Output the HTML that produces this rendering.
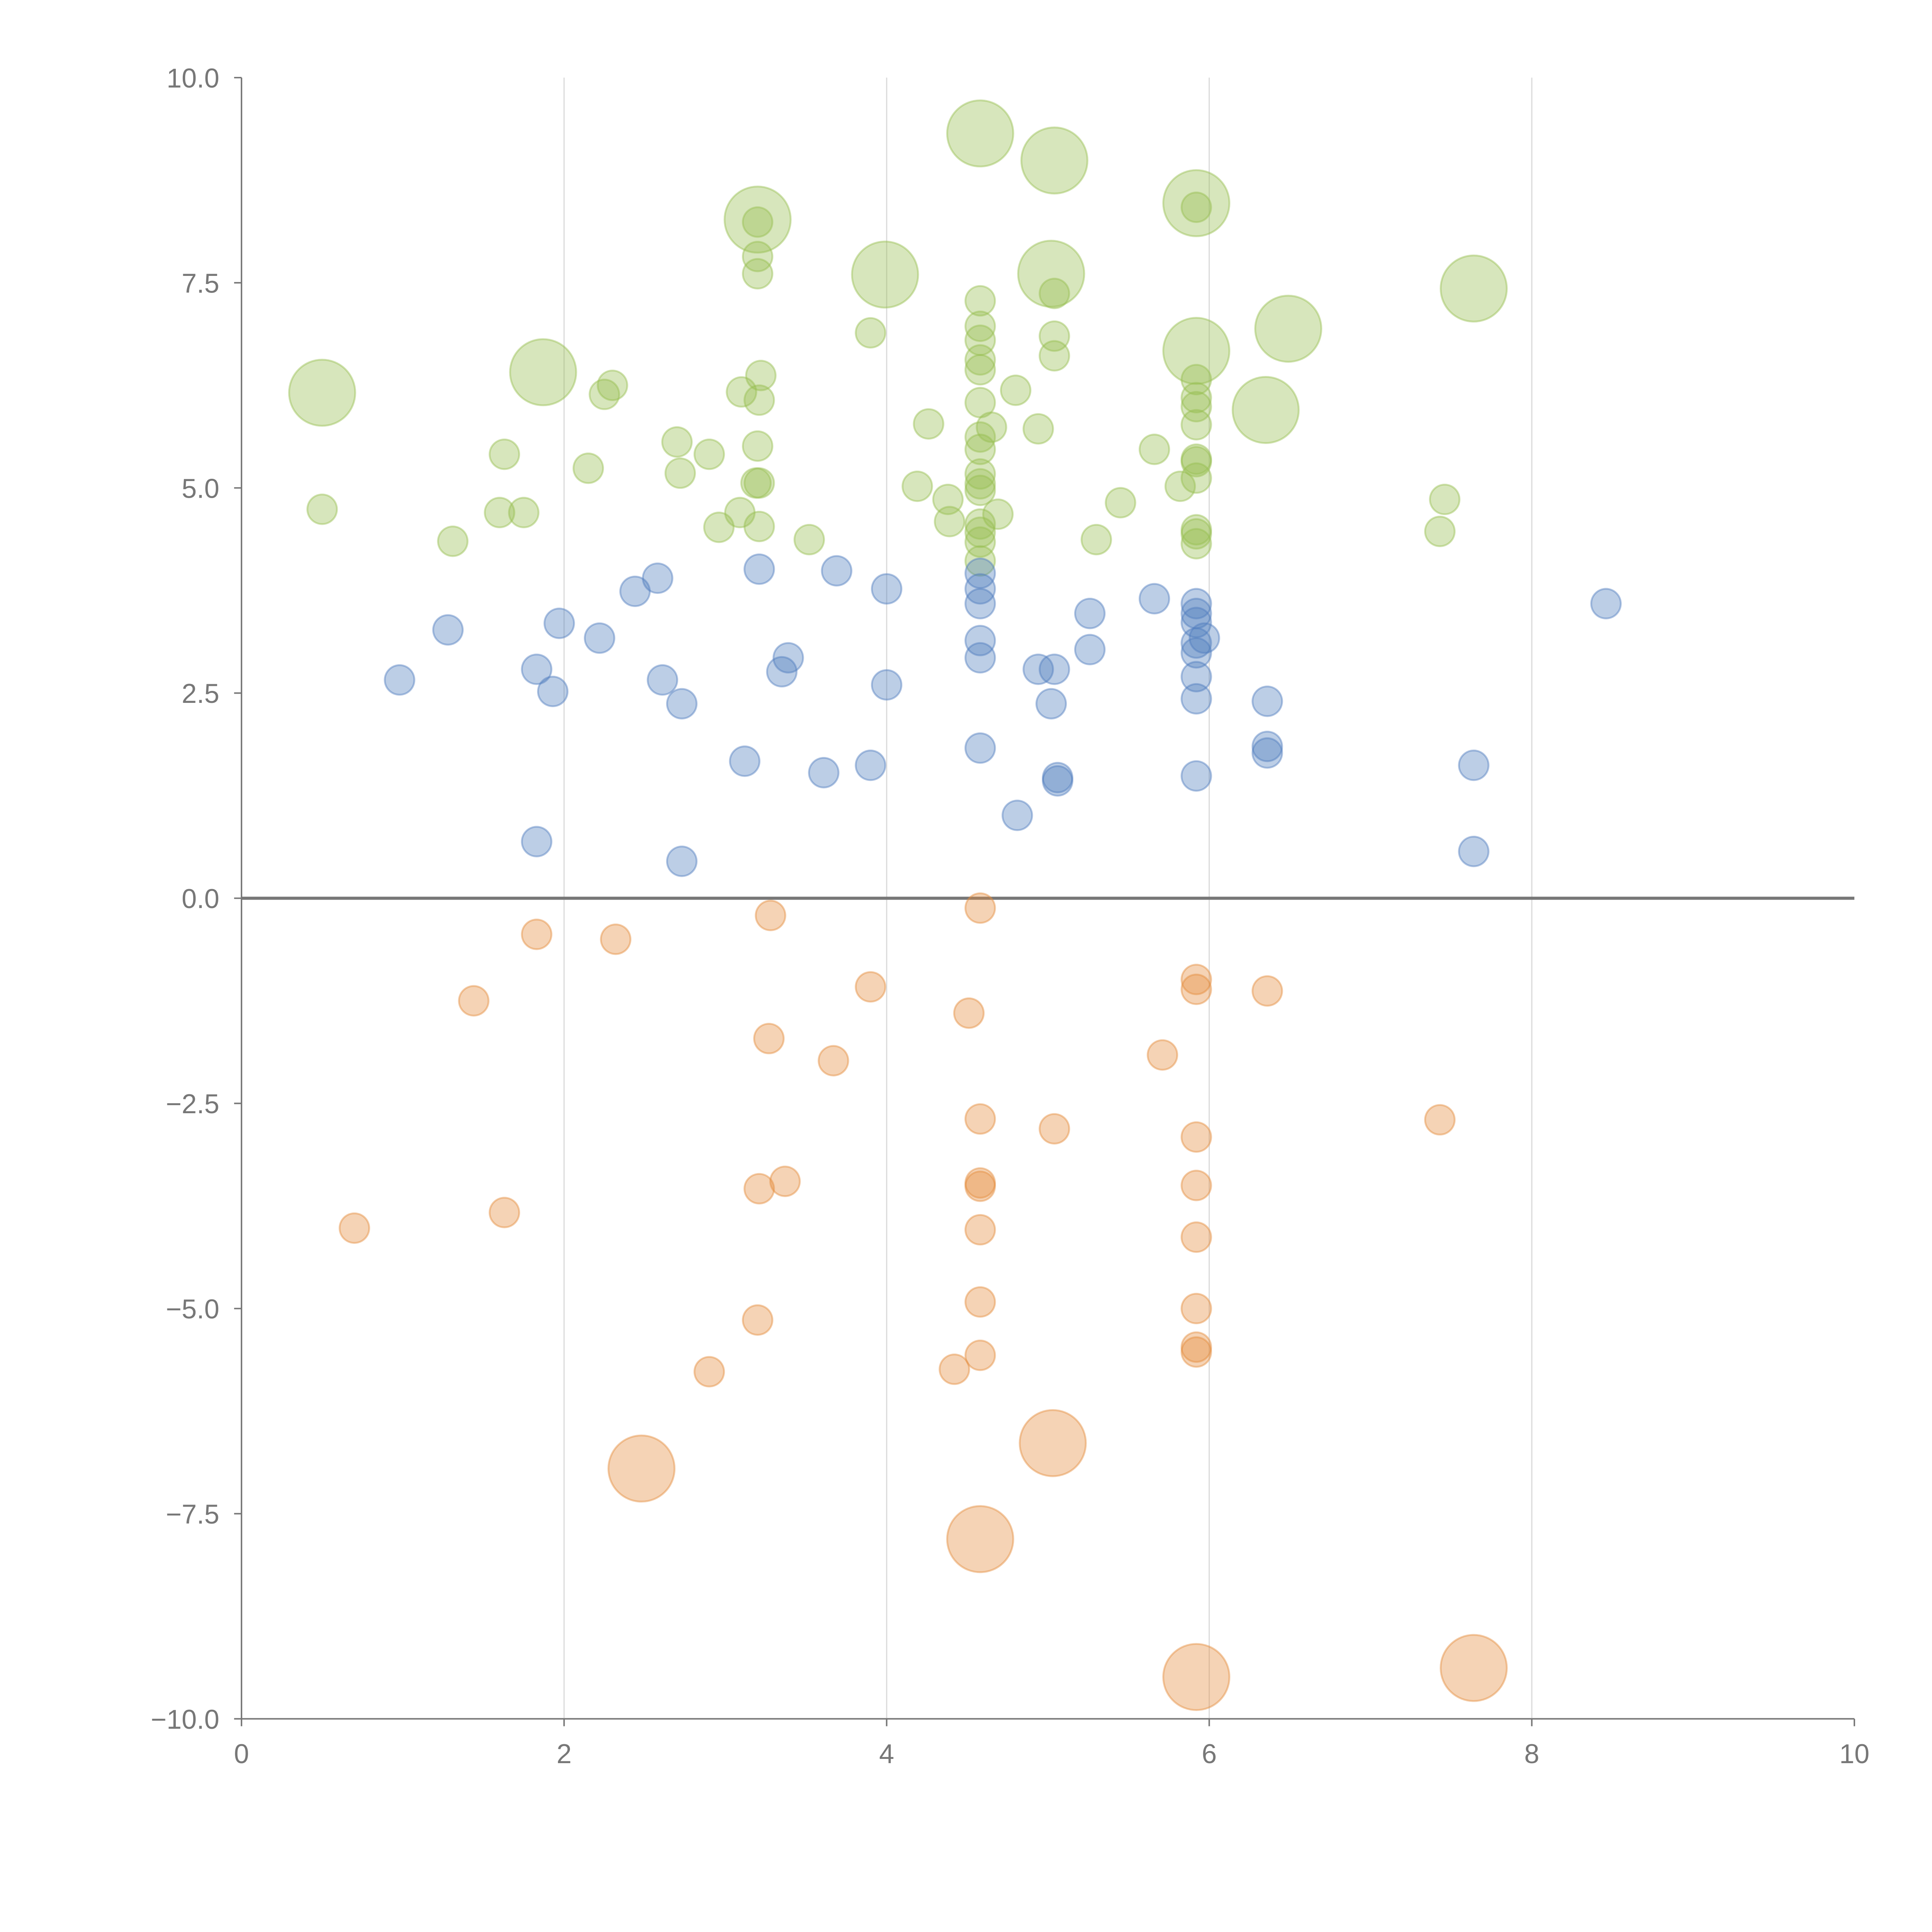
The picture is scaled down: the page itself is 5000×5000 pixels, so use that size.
<!DOCTYPE html>
<html><head><meta charset="utf-8"><style>
html,body{margin:0;padding:0;background:#fff;}
svg{display:block;}
text{font-family:"Liberation Sans",sans-serif;}
</style></head><body>
<svg id="chart" width="5000" height="5000" viewBox="0 0 1568 1568" xmlns="http://www.w3.org/2000/svg">
<g id="grid"></g>
<g id="axes"></g>
<g id="marks"></g>
</svg>
<script>
const xTicks=[0,2,4,6,8,10];
const yTicks=[-10,-7.5,-5,-2.5,0,2.5,5,7.5,10];
const yTickLabels=["−10.0","−7.5","−5.0","−2.5","0.0","2.5","5.0","7.5","10.0"];
const greenX=[0.50,1.87,3.20,3.99,4.58,5.04,5.02,5.92,5.92,6.49,6.35,7.64,
0.50,1.31,1.63,1.60,1.75,2.15,2.25,2.30,2.70,2.72,2.90,2.96,3.09,3.10,3.21,3.20,3.20,3.20,3.22,3.21,3.20,3.19,3.21,3.52,3.90,4.19,4.26,4.38,4.39,4.58,4.58,4.58,4.58,4.58,4.58,4.58,4.58,4.58,4.58,4.58,4.58,4.58,4.58,4.58,4.65,4.69,4.80,4.94,5.04,5.04,5.04,5.30,5.45,5.66,5.82,5.92,5.92,5.92,5.92,5.92,5.92,5.92,5.92,5.92,5.92,5.92,7.46,7.43];
const greenY=[6.16,6.41,8.27,7.60,9.32,8.99,7.61,8.47,6.67,6.94,5.95,7.43,
4.74,4.35,5.41,4.70,4.70,5.24,6.14,6.25,5.56,5.18,5.41,4.52,4.70,6.17,4.53,8.24,7.82,7.61,6.37,6.07,5.51,5.06,5.06,4.37,6.89,5.02,5.78,4.86,4.59,7.28,6.97,6.80,6.56,6.44,6.04,5.62,5.47,5.17,5.05,4.97,4.56,4.46,4.34,4.11,5.74,4.68,6.19,5.72,7.37,6.85,6.61,4.37,4.82,5.47,5.02,8.42,6.32,6.10,5.99,5.77,5.35,5.32,5.12,4.49,4.44,4.32,4.86,4.47];
const greenSize=[50,50,50,50,50,50,50,50,50,50,50,50,
10,10,10,10,10,10,10,10,10,10,10,10,10,10,10,10,10,10,10,10,10,10,10,10,10,10,10,10,10,10,10,10,10,10,10,10,10,10,10,10,10,10,10,10,10,10,10,10,10,10,10,10,10,10,10,10,10,10,10,10,10,10,10,10,10,10,10,10];
const blueX=[0.98,1.28,1.83,1.83,1.93,1.97,2.22,2.44,2.58,2.61,2.73,2.73,3.12,3.21,3.35,3.39,3.61,3.69,3.90,4.00,4.00,4.58,4.58,4.58,4.58,4.58,4.58,4.81,4.94,5.04,5.02,5.06,5.06,5.26,5.26,5.66,5.92,5.92,5.92,5.92,5.92,5.92,5.92,5.92,5.97,6.36,6.36,6.36,7.64,7.64,8.46];
const blueY=[2.66,3.27,2.79,0.69,2.52,3.35,3.17,3.74,3.90,2.66,2.37,0.45,1.67,4.01,2.76,2.93,1.53,3.99,1.62,3.77,2.60,3.96,3.77,3.59,3.14,2.93,1.83,1.01,2.79,2.79,2.37,1.47,1.43,3.47,3.03,3.65,3.59,3.47,3.36,3.11,2.99,2.70,2.43,1.49,3.17,2.40,1.85,1.77,1.62,0.57,3.59];
const blueSize=blueX.map(()=>10);
const orangeX=[2.48,5.03,4.58,5.92,7.64,
0.70,1.44,1.63,1.83,2.32,2.90,3.20,3.21,3.27,3.28,3.37,3.67,3.90,4.42,4.51,4.58,4.58,4.58,4.58,4.58,4.58,4.58,5.04,5.71,5.92,5.92,5.92,5.92,5.92,5.92,5.92,5.92,6.36,7.43];
const orangeY=[-6.95,-6.64,-7.81,-9.49,-9.38,
-4.02,-1.25,-3.83,-0.44,-0.50,-5.77,-5.14,-3.54,-1.71,-0.21,-3.45,-1.98,-1.08,-5.74,-1.40,-0.12,-2.69,-3.47,-3.51,-4.04,-4.92,-5.57,-2.81,-1.91,-0.99,-1.11,-2.91,-3.50,-4.13,-5.00,-5.47,-5.53,-1.13,-2.70];
const orangeSize=[50,50,50,50,50,10,10,10,10,10,10,10,10,10,10,10,10,10,10,10,10,10,10,10,10,10,10,10,10,10,10,10,10,10,10,10,10,10,10];

const NS="http://www.w3.org/2000/svg";
const X0=196,X1=1505,Y0=1395,Y1=63;
function xs(v){return X0+(v-0)/(10-0)*(X1-X0);}
function ys(v){return Y0-(v+10)/20*(Y0-Y1);}
function rs(s){return 12*Math.sqrt(s/10);}
function mk(tag,attrs,parent){const e=document.createElementNS(NS,tag);for(const k in attrs)e.setAttribute(k,attrs[k]);parent.appendChild(e);return e;}
const grid=document.getElementById('grid'),axes=document.getElementById('axes'),marks=document.getElementById('marks');
xTicks.forEach(t=>{
  if(t>0&&t<10){const g=mk('line',{x1:xs(t),x2:xs(t),y1:Y1,y2:Y0,stroke:'#dcdcdc','stroke-width':1},grid);
  
  }
  const tk=mk('line',{x1:xs(t),x2:xs(t),y1:Y0,y2:Y0+6,stroke:'#777','stroke-width':1.2},axes);
  
  
  const tl=mk('text',{x:xs(t),y:Y0+36,'text-anchor':'middle','font-size':22,fill:'#777'},axes);
  tl.textContent=String(t);
  
  
});
yTicks.forEach((t,i)=>{
  const tk=mk('line',{x1:X0-6,x2:X0,y1:ys(t),y2:ys(t),stroke:'#777','stroke-width':1.2},axes);
  
  
  const tl=mk('text',{x:X0-18,y:ys(t)+8,'text-anchor':'end','font-size':22,fill:'#777'},axes);
  tl.textContent=yTickLabels[i];
  
  
});
const ya=mk('line',{x1:X0,x2:X0,y1:Y1,y2:Y0,stroke:'#777','stroke-width':1.2},axes);


const xa=mk('line',{x1:X0,x2:X1,y1:Y0,y2:Y0,stroke:'#777','stroke-width':1.2},axes);


const zl=mk('line',{x1:X0,x2:X1,y1:ys(0),y2:ys(0),stroke:'#777','stroke-width':2.5},axes);


function series(xsA,ysA,ss,col,name){
  xsA.forEach((v,i)=>{
    const c=mk('circle',{cx:xs(v),cy:ys(ysA[i]),r:rs(ss[i]),fill:col,'fill-opacity':0.38,stroke:col,'stroke-opacity':0.45,'stroke-width':1.5},marks);
    
    
  });
}
series(greenX,greenY,greenSize,'rgb(150,190,80)','bubble-green');
series(blueX,blueY,blueSize,'rgb(80,125,190)','bubble-blue');
series(orangeX,orangeY,orangeSize,'rgb(228,140,60)','bubble-orange');
</script>
</body></html>
